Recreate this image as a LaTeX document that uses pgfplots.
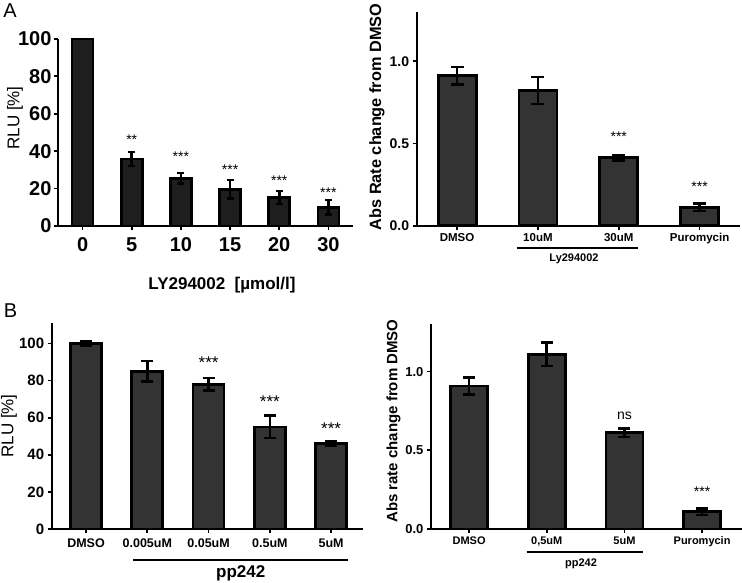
\documentclass[border=0pt]{standalone}
\usepackage{pgfplots}
\pgfplotsset{compat=1.18}
\usepackage{fontspec}
\setmainfont{Liberation Sans}
\definecolor{barA}{HTML}{1E1E1E}
\definecolor{barB}{HTML}{333333}
\newcommand{\fs}[1]{\fontsize{#1}{#1}\selectfont}
\pgfplotsset{
  myax/.style={
    scale only axis,
    anchor=south west,
    axis x line*=bottom, axis y line*=left,
    axis line style={line width=1.8pt,-},
    every tick/.style={line width=1.8pt,black},
    major tick length=4pt,
    tick align=outside,
    xtick={0,...,5},
    clip=false,
    /pgf/number format/assume math mode=true,
  },
  mybar/.style={ybar, bar shift=0pt, draw=black, line width=2.8pt,
    error bars/y dir=both, error bars/y explicit,
    error bars/error bar style={line width=2.6pt,black},
    error bars/error mark options={rotate=90,line width=2.6pt,black,mark size=#1}},
}
\begin{document}
\begin{tikzpicture}
\useasboundingbox (0,0) rectangle (742pt,582pt);

% ---------- A left ----------
\begin{axis}[myax, at={(58pt,356pt)}, width=295pt, height=187pt,
  xmin=-0.5, xmax=5.5, ymin=0, ymax=100,
  ytick={0,20,40,60,80,100}, yticklabels={0,20,40,60,80,100},
  xticklabels={0,5,10,15,20,30},
  yticklabel style={font=\bfseries\fs{20}, xshift=1pt},
  xticklabel style={font=\bfseries\fs{20}, yshift=-4pt}]
\addplot[mybar=3.5pt, fill=barA, bar width=21pt] coordinates {
 (0,100) +- (0,0)
 (1,35.8) +- (0,3.8)
 (2,25.5) +- (0,2.8)
 (3,19.6) +- (0,5.0)
 (4,15.3) +- (0,3.5)
 (5,10.0) +- (0,4.0)
};
\node[font=\fs{14}] at (axis cs:1,46) {**};
\node[font=\fs{14}] at (axis cs:2,37) {***};
\node[font=\fs{14}] at (axis cs:3,30) {***};
\node[font=\fs{14}] at (axis cs:4,24) {***};
\node[font=\fs{14}] at (axis cs:5,17.7) {***};
\end{axis}
\node[font=\bfseries\fs{17}] at (222pt,297pt) {LY294002\ \ [µmol/l]};
\node[font=\fs{17}, rotate=90] at (15pt,464pt) {RLU [\%]};
\node[font=\fs{20}] at (10pt,571pt) {A};

% ---------- A right ----------
\begin{axis}[myax, at={(416.7pt,356.3pt)}, width=323.3pt, height=213.7pt,
  xmin=-0.5, xmax=3.5, ymin=0, ymax=1.3,
  ytick={0,0.5,1}, yticklabels={0.0,0.5,1.0},
  xtick={0,...,3}, xticklabels={DMSO,10uM,30uM,Puromycin},
  yticklabel style={font=\bfseries\fs{14}},
  xticklabel style={font=\bfseries\fs{11.5}}]
\addplot[mybar=6.5pt, fill=barB, bar width=38pt] coordinates {
 (0,0.913) +- (0,0.053)
 (1,0.823) +- (0,0.082)
 (2,0.413) +- (0,0.015)
 (3,0.112) +- (0,0.022)
};
\node[font=\fs{14}] at (axis cs:2,0.54) {***};
\node[font=\fs{14}] at (axis cs:3,0.24) {***};
\end{axis}
\draw[line width=2pt] (516.7pt,333.7pt) -- (638.3pt,333.7pt);
\node[font=\bfseries\fs{11}] at (574pt,323pt) {Ly294002};
\node[font=\bfseries\fs{16.3}, rotate=90] at (377pt,465pt) {Abs Rate change from DMSO};

% ---------- B left ----------
\begin{axis}[myax, at={(51.7pt,53pt)}, width=311.3pt, height=206pt,
  xmin=-0.56, xmax=4.52, ymin=0, ymax=111,
  ytick={0,20,40,60,80,100}, yticklabels={0,20,40,60,80,100},
  xtick={0,...,4}, xticklabels={DMSO,0.005uM,0.05uM,0.5uM,5uM},
  yticklabel style={font=\bfseries\fs{15}},
  xticklabel style={font=\bfseries\fs{12.5}, yshift=-2pt}]
\addplot[mybar=6pt, fill=barB, bar width=31pt] coordinates {
 (0,100) +- (0,1.0)
 (1,85.0) +- (0,5.5)
 (2,78.0) +- (0,3.3)
 (3,55.0) +- (0,6.0)
 (4,46.0) +- (0,1.0)
};
\node[font=\fs{17}] at (axis cs:2,89.5) {***};
\node[font=\fs{17}] at (axis cs:3,68.5) {***};
\node[font=\fs{17}] at (axis cs:4,54.1) {***};
\end{axis}
\draw[line width=2pt] (133pt,22pt) -- (348pt,22pt);
\node[font=\bfseries\fs{17}] at (240.7pt,9pt) {pp242};
\node[font=\fs{17}, rotate=90] at (9pt,156pt) {RLU [\%]};
\node[font=\fs{20}] at (10.5pt,271.5pt) {B};

% ---------- B right ----------
\begin{axis}[myax, at={(431pt,53pt)}, width=310.7pt, height=204.7pt,
  xmin=-0.49, xmax=3.51, ymin=0, ymax=1.3,
  ytick={0,0.5,1}, yticklabels={0.0,0.5,1.0},
  xtick={0,...,3}, xticklabels={DMSO,{0,5uM},5uM,Puromycin},
  yticklabel style={font=\bfseries\fs{13}},
  xticklabel style={font=\bfseries\fs{11}}]
\addplot[mybar=6pt, fill=barB, bar width=37pt] coordinates {
 (0,0.908) +- (0,0.053)
 (1,1.110) +- (0,0.075)
 (2,0.611) +- (0,0.027)
 (3,0.110) +- (0,0.022)
};
\node[font=\fs{14}] at (axis cs:2,0.717) {ns};
\node[font=\fs{14}] at (axis cs:3,0.235) {***};
\end{axis}
\draw[line width=2pt] (526.7pt,30.3pt) -- (643.3pt,30.3pt);
\node[font=\bfseries\fs{11}] at (581pt,18.7pt) {pp242};
\node[font=\bfseries\fs{15}, rotate=90] at (393.5pt,161pt) {Abs rate change from DMSO};
\end{tikzpicture}
\end{document}
